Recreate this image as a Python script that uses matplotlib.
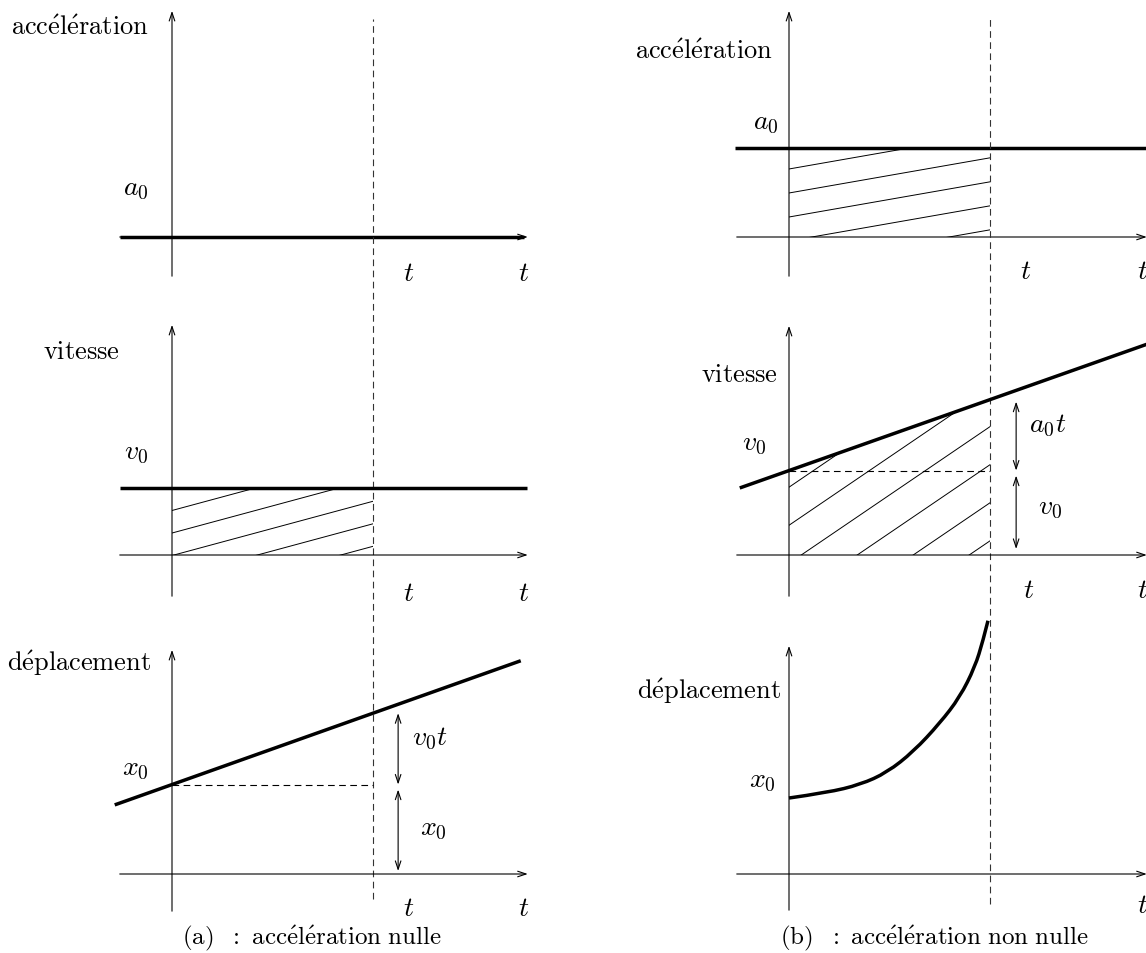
import matplotlib
matplotlib.use("Agg")
import matplotlib.pyplot as plt
import matplotlib.transforms as mtransforms
from matplotlib.patches import FancyArrowPatch, Polygon, PathPatch
from matplotlib.path import Path

plt.rcParams["mathtext.fontset"] = "cm"

# ---------------------------------------------------------------- data
T_MARK = 2.0                      # instant marked by the dashed line

# (a) zero acceleration
acc_a = 0.0
vel_a = 0.67
disp_a_x0 = 0.89
disp_a_rate = 0.355

# (b) non-zero acceleration
acc_b = 0.89
vel_b_v0 = 0.84
vel_b_rate = 0.353
disp_b_t = [0.0, 0.38, 0.71, 0.975, 1.24, 1.50, 1.70, 1.85, 1.93, 1.98]
disp_b_x = [0.756, 0.81, 0.89, 1.01, 1.22, 1.50, 1.76, 2.06, 2.32, 2.52]

row_titles = ["accélération", "vitesse", "déplacement"]
captions = ["(a)  : accélération nulle", "(b)  : accélération non nulle"]

# ---------------------------------------------------------------- layout
W, H, DPI = 1146, 954, 100
U = 100.5                          # pixels per data unit
FS_MATH = 20
FS_TITLE = 19
FS_CAP = 18
LW_THICK = 2.5
LW_THIN = 0.8
LW_HATCH = 0.7

fig = plt.figure(figsize=(W / DPI, H / DPI), dpi=DPI)
fig.patch.set_facecolor("white")

XLO, XHI, YLO, YHI = -1.75, 3.62, -0.62, 2.62


def panel(ox, oy):
    left = (ox + XLO * U) / W
    width = (XHI - XLO) * U / W
    bottom = (H - oy + YLO * U) / H
    height = (YHI - YLO) * U / H
    ax = fig.add_axes([left, bottom, width, height])
    ax.set_xlim(XLO, XHI)
    ax.set_ylim(YLO, YHI)
    ax.axis("off")
    return ax


def cm_text(s):
    s = s.replace("é", r"\acute{e}").replace(" ", r"\ ")
    return r"$\mathrm{" + s + "}$"


def arrow(ax, p0, p1, style="->"):
    a = FancyArrowPatch(p0, p1, arrowstyle=style + ",head_length=6,head_width=2.0",
                        mutation_scale=1, lw=LW_THIN, color="black",
                        shrinkA=0, shrinkB=0, clip_on=False)
    ax.add_patch(a)


def axes_frame(ax, ytop, ybot=-0.39, xleft=-0.52, xright=3.54):
    arrow(ax, (0, ybot), (0, ytop))
    arrow(ax, (xleft, 0), (xright, 0))


def hatch(ax, verts, slope, spacing, phase):
    clip = Polygon(verts, closed=True, facecolor="none", edgecolor="none")
    ax.add_patch(clip)
    for k in range(-8, 9):
        xc = phase + k * spacing
        ln, = ax.plot([xc - 6, xc + 6], [-6 * slope, 6 * slope],
                      color="black", lw=LW_HATCH)
        ln.set_clip_path(clip)


def dashed_vertical(ax, x, ytop_px, ybot_px):
    tr = mtransforms.blended_transform_factory(ax.transData, fig.transFigure)
    ax.plot([x, x], [(H - ybot_px) / H, (H - ytop_px) / H], transform=tr,
            color="#333333", lw=0.8, ls=(0, (6, 4)), clip_on=False)


def label(ax, x, y, s, **kw):
    ax.text(x, y, s, fontsize=FS_MATH, ha="center", va="center", **kw)


def title(ax, x_left, y, s):
    ax.text(x_left, y, cm_text(s), fontsize=FS_TITLE, ha="left", va="center")


COL_X = [172, 789]
ROW_Y = [238, 556, 875]

# ================================================================ column (a)
ax = panel(COL_X[0], ROW_Y[0])
axes_frame(ax, 2.25)
ax.plot([-0.52, 3.50], [acc_a, acc_a], color="black", lw=LW_THICK,
        solid_capstyle="butt")
title(ax, -1.60, 2.09, row_titles[0])
label(ax, -0.36, acc_a + 0.50, r"$a_0$")
label(ax, T_MARK + 0.35, -0.35, r"$t$")
label(ax, 3.50, -0.35, r"$t$")
dashed_vertical(ax, T_MARK, 20, 900)

ax = panel(COL_X[0], ROW_Y[1])
axes_frame(ax, 2.29, ybot=-0.41)
ax.plot([-0.52, 3.53], [vel_a, vel_a], color="black", lw=LW_THICK,
        solid_capstyle="butt")
hatch(ax, [(0, 0), (0, vel_a), (T_MARK, vel_a), (T_MARK, 0)], 0.27, 0.83, 0.02)
title(ax, -1.28, 2.03, row_titles[1])
label(ax, -0.36, 1.03, r"$v_0$")
label(ax, T_MARK + 0.35, -0.37, r"$t$")
label(ax, 3.50, -0.37, r"$t$")

ax = panel(COL_X[0], ROW_Y[2])
axes_frame(ax, 2.23, ybot=-0.37)
ts = [-0.57, 3.47]
ax.plot(ts, [disp_a_x0 + disp_a_rate * t for t in ts], color="black",
        lw=LW_THICK, solid_capstyle="butt")
ax.plot([0, T_MARK], [disp_a_x0, disp_a_x0], color="black", lw=LW_THIN,
        ls=(0, (6, 4)))
xa = T_MARK + 0.25
arrow(ax, (xa, disp_a_x0), (xa, disp_a_x0 + disp_a_rate * T_MARK), "<->")
arrow(ax, (xa, 0.03), (xa, disp_a_x0 - 0.05), "<->")
label(ax, 2.57, 1.36, r"$v_0t$")
label(ax, 2.60, 0.47, r"$x_0$")
label(ax, -0.36, disp_a_x0 + 0.17, r"$x_0$")
title(ax, -1.64, 2.11, row_titles[2])
label(ax, T_MARK + 0.35, -0.33, r"$t$")
label(ax, 3.50, -0.33, r"$t$")

# ================================================================ column (b)
ax = panel(COL_X[1], ROW_Y[0])
axes_frame(ax, 2.25, xright=3.56)
ax.plot([-0.54, 3.56], [acc_b, acc_b], color="black", lw=LW_THICK,
        solid_capstyle="butt")
hatch(ax, [(0, 0), (0, acc_b), (T_MARK, acc_b), (T_MARK, 0)], 0.175, 1.365, 0.228)
title(ax, -1.53, 1.85, row_titles[0])
label(ax, -0.23, acc_b + 0.26, r"$a_0$")
label(ax, T_MARK + 0.35, -0.33, r"$t$")
label(ax, 3.52, -0.33, r"$t$")
dashed_vertical(ax, T_MARK, 20, 905)

ax = panel(COL_X[1], ROW_Y[1])
axes_frame(ax, 2.28, ybot=-0.41, xright=3.56)
ts = [-0.49, 3.6]
ax.plot(ts, [vel_b_v0 + vel_b_rate * t for t in ts], color="black",
        lw=LW_THICK, solid_capstyle="butt")
ax.plot([0, T_MARK], [vel_b_v0, vel_b_v0], color="black", lw=LW_THIN,
        ls=(0, (6, 4)))
hatch(ax, [(0, 0), (0, vel_b_v0), (T_MARK, vel_b_v0 + vel_b_rate * T_MARK),
           (T_MARK, 0)], 0.68, 0.557, 0.122)
xa = T_MARK + 0.26
arrow(ax, (xa, vel_b_v0), (xa, vel_b_v0 + vel_b_rate * T_MARK - 0.02), "<->")
arrow(ax, (xa, 0.06), (xa, vel_b_v0 - 0.05), "<->")
label(ax, 2.57, 1.30, r"$a_0t$")
label(ax, 2.60, 0.49, r"$v_0$")
label(ax, -0.35, 1.12, r"$v_0$")
title(ax, -0.88, 1.80, row_titles[1])
label(ax, T_MARK + 0.38, -0.34, r"$t$")
label(ax, 3.52, -0.34, r"$t$")

ax = panel(COL_X[1], ROW_Y[2])
axes_frame(ax, 2.27, ybot=-0.36, xright=3.56)
pts = list(zip(disp_b_t, disp_b_x))
verts = [pts[0]]
codes = [Path.MOVETO]
for i in range(1, len(pts) - 2):
    mid = ((pts[i][0] + pts[i + 1][0]) / 2, (pts[i][1] + pts[i + 1][1]) / 2)
    verts += [pts[i], mid]
    codes += [Path.CURVE3, Path.CURVE3]
verts += [pts[-2], pts[-1]]
codes += [Path.CURVE3, Path.CURVE3]
ax.add_patch(PathPatch(Path(verts, codes), facecolor="none", edgecolor="black",
                       lw=LW_THICK, clip_on=False))
label(ax, -0.26, 0.95, r"$x_0$")
title(ax, -1.51, 1.83, row_titles[2])
label(ax, 3.52, -0.30, r"$t$")

# ---------------------------------------------------------------- captions
fig.text(182 / W, (H - 938) / H, cm_text(captions[0]), fontsize=FS_CAP,
         ha="left", va="center")
fig.text(780 / W, (H - 938) / H, cm_text(captions[1]), fontsize=FS_CAP,
         ha="left", va="center")

fig.savefig("out.png", dpi=DPI, facecolor="white")
